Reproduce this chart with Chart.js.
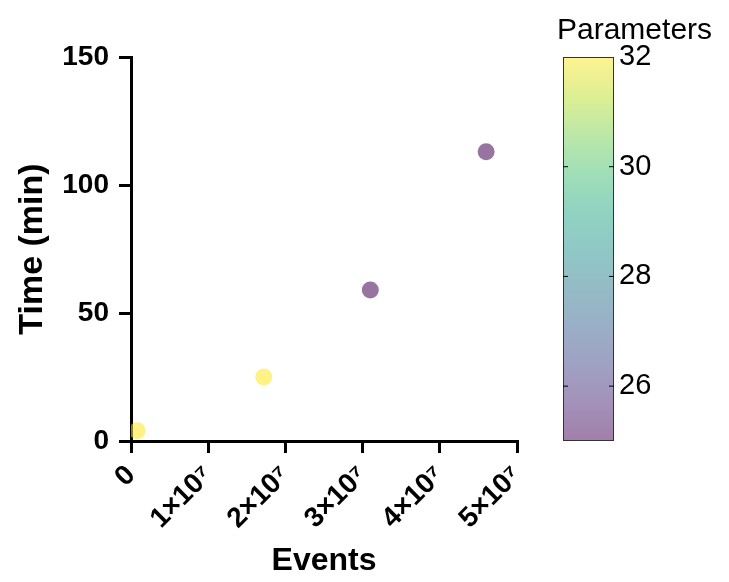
<!DOCTYPE html>
<html lang="en">
<head>
  <meta charset="UTF-8" />
  <title>Time vs Events</title>
  <script src="https://cdn.jsdelivr.net/npm/chart.js"></script>
  <style>
    html, body { margin: 0; padding: 0; background: #ffffff; }
    #wrap { width: 729px; height: 582px; position: relative; }
  </style>
</head>
<body>
  <div id="wrap"><canvas id="chart"></canvas></div>
  <script>
    // data
    const events = [8e5, 1.72e7, 3.1e7, 4.6e7];
    const times = [4, 25, 59, 113];
    const params = [32, 32, 25, 25];

    const xTickLabels = ["0", "1×10⁷", "2×10⁷", "3×10⁷", "4×10⁷", "5×10⁷"];
    const yTickLabels = ["0", "50", "100", "150"];
    const cbTicks = [26, 28, 30, 32];
    const cbMin = 25, cbMax = 32;

    const FONT = "'Liberation Sans', Arial, sans-serif";
    const ALPHA = 0.55;

    // viridis stops
    const viridis = ["#440154", "#482475", "#414487", "#355f8d", "#2a788e",
      "#21918c", "#22a884", "#44bf70", "#7ad151", "#bddf26", "#fde725"];

    function hexRgb(h) {
      return [parseInt(h.slice(1, 3), 16), parseInt(h.slice(3, 5), 16), parseInt(h.slice(5, 7), 16)];
    }
    function viridisAt(t, a) {
      t = Math.max(0, Math.min(1, t));
      const p = t * (viridis.length - 1);
      const i = Math.min(Math.floor(p), viridis.length - 2);
      const f = p - i;
      const c0 = hexRgb(viridis[i]), c1 = hexRgb(viridis[i + 1]);
      const c = c0.map((v, k) => Math.round(v + (c1[k] - v) * f));
      return `rgba(${c[0]}, ${c[1]}, ${c[2]}, ${a})`;
    }
    const pointColors = params.map(p => viridisAt((p - cbMin) / (cbMax - cbMin), ALPHA));

    const colorbar = {
      id: "colorbar",
      afterDraw(chart) {
        const ctx = chart.ctx;
        const { top, bottom } = chart.chartArea;
        const x0 = 563, x1 = 614;
        const h = bottom - top;
        const grad = ctx.createLinearGradient(0, bottom, 0, top);
        for (let i = 0; i <= 20; i++) grad.addColorStop(i / 20, viridisAt(i / 20, 0.5));
        ctx.save();
        ctx.fillStyle = grad;
        ctx.fillRect(x0, top, x1 - x0, h);
        ctx.strokeStyle = "#333";
        ctx.lineWidth = 1;
        ctx.strokeRect(x0 + 0.5, top + 0.5, x1 - x0 - 1, h - 1);
        ctx.strokeStyle = "#000";
        ctx.fillStyle = "#000";
        ctx.font = "29px " + FONT;
        ctx.textBaseline = "middle";
        ctx.textAlign = "left";
        cbTicks.forEach(v => {
          const y = bottom - (v - cbMin) / (cbMax - cbMin) * h;
          if (v < cbMax) {
            ctx.beginPath();
            ctx.moveTo(x0, y); ctx.lineTo(x0 + 5, y);
            ctx.moveTo(x1 - 5, y); ctx.lineTo(x1, y);
            ctx.stroke();
          }
          ctx.fillText(String(v), x1 + 5, y);
        });
        ctx.font = "30px " + FONT;
        ctx.textBaseline = "alphabetic";
        ctx.fillText("Parameters", 557, 39);
        ctx.restore();
      }
    };

    new Chart(document.getElementById("chart"), {
      type: "scatter",
      data: {
        datasets: [{
          data: events.map((e, i) => ({ x: e, y: times[i] })),
          pointBackgroundColor: pointColors,
          pointBorderWidth: 0,
          pointRadius: 8.5,
          pointHoverRadius: 8.5
        }]
      },
      options: {
        responsive: true,
        maintainAspectRatio: false,
        animation: false,
        layout: { padding: { top: 57, right: 212, left: 12, bottom: 2 } },
        plugins: { legend: { display: false }, tooltip: { enabled: false } },
        scales: {
          x: {
            type: "linear",
            min: 0, max: 5e7,
            afterFit: s => { s.height = 139; },
            border: { color: "#000", width: 3 },
            grid: { drawOnChartArea: false, color: "#000", lineWidth: 3, tickLength: 12 },
            ticks: {
              stepSize: 1e7,
              minRotation: 45, maxRotation: 45,
              color: "#000",
              padding: 6,
              font: { family: FONT, size: 28, weight: "bold" },
              callback: (v, i) => xTickLabels[i]
            },
            title: {
              display: true, text: "Events", color: "#000",
              font: { family: FONT, size: 32, weight: "bold" },
              padding: { top: 4, bottom: 0 }
            }
          },
          y: {
            min: 0, max: 150,
            afterFit: s => { s.width = 119; },
            border: { color: "#000", width: 3 },
            grid: { drawOnChartArea: false, color: "#000", lineWidth: 3, tickLength: 12 },
            ticks: {
              stepSize: 50,
              color: "#000",
              padding: 10,
              font: { family: FONT, size: 28, weight: "bold" },
              callback: (v, i) => yTickLabels[i]
            },
            title: {
              display: true, text: "Time (min)", color: "#000",
              font: { family: FONT, size: 34, weight: "bold" },
              padding: { top: 0, bottom: 0 }
            }
          }
        }
      },
      plugins: [colorbar]
    });
  </script>
</body>
</html>
